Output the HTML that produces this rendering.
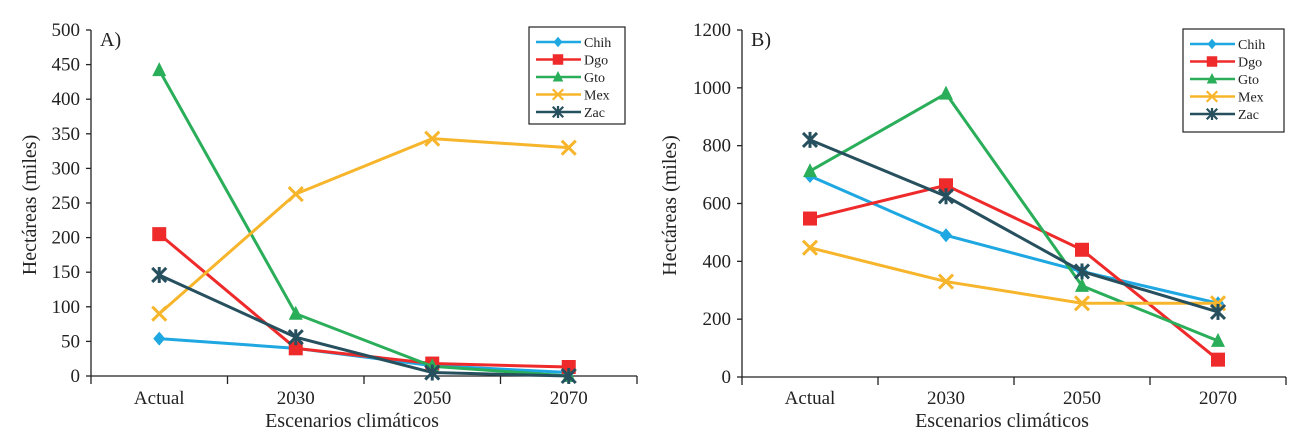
<!DOCTYPE html>
<html><head><meta charset="utf-8"><style>
body{margin:0;background:#fff}
svg{display:block;font-family:"Liberation Serif",serif}
</style></head><body>
<svg id="c" width="1291" height="439"></svg>
<script>
const categories=["Actual","2030","2050","2070"];
const seriesNames=["Chih","Dgo","Gto","Mex","Zac"];
const colors=["#1ea7e1","#ee2a2a","#2aae5a","#f7b52c","#27505e"];
const chihA=[54,40,15,5], dgoA=[205,40,18,13], gtoA=[442,90,14,0], mexA=[90,263,343,330], zacA=[146,56,5,0];
const chihB=[695,490,365,255], dgoB=[548,663,440,60], gtoB=[712,980,315,125], mexB=[447,330,255,255], zacB=[820,625,365,225];
const ticksA=[0,50,100,150,200,250,300,350,400,450,500];
const ticksB=[0,200,400,600,800,1000,1200];
const NS="http://www.w3.org/2000/svg";
const svg=document.getElementById('c');
function mk(t,a,p){const e=document.createElementNS(NS,t);for(const k in a)e.setAttribute(k,a[k]);(p||svg).appendChild(e);return e;}
function marker(g,type,x,y,col){
  if(type===0){const m=mk('polygon',{points:`${x},${y-7} ${x+6},${y} ${x},${y+7} ${x-6},${y}`,fill:col},g);return m;}
  if(type===1){return mk('rect',{x:x-7,y:y-7,width:14,height:14,fill:col},g);}
  if(type===2){return mk('polygon',{points:`${x},${y-8} ${x+7},${y+6} ${x-7},${y+6}`,fill:col},g);}
  const gg=mk('g',{stroke:col,'stroke-width':3,fill:'none'},g);
  mk('line',{x1:x-7,y1:y-7,x2:x+7,y2:y+7},gg);mk('line',{x1:x+7,y1:y-7,x2:x-7,y2:y+7},gg);
  if(type===4){mk('line',{x1:x,y1:y-8,x2:x,y2:y+8},gg);}
  return gg;
}
function chart(o){
  const g=mk('g',{});
  
  
  const y=v=>o.y0-(v/o.max)*(o.y0-o.yTop);
  const bw=(o.x1-o.x0)/categories.length;
  const cx=i=>o.x0+bw*(i+0.5);
  const ax=mk('g',{stroke:'#222','stroke-width':1.3},g);
  
  
  mk('line',{x1:o.x0,y1:o.yTop,x2:o.x0,y2:o.y0+8},ax);
  mk('line',{x1:o.x0,y1:o.y0,x2:o.x1,y2:o.y0},ax);
  for(let i=1;i<=categories.length;i++)mk('line',{x1:o.x0+bw*i,y1:o.y0,x2:o.x0+bw*i,y2:o.y0+8},ax);
  o.ticks.forEach(t=>{
    mk('line',{x1:o.x0-5,y1:y(t),x2:o.x0,y2:y(t)},ax);
    const tx=mk('text',{x:o.x0-11,y:y(t)+6,'text-anchor':'end','font-size':19,fill:'#222'},g);
    
    
    tx.textContent=t;
  });
  categories.forEach((c,i)=>{
    const tx=mk('text',{x:cx(i),y:404,'text-anchor':'middle','font-size':19,fill:'#222'},g);
    
    
    tx.textContent=c;
  });
  const xt=mk('text',{x:(o.x0+o.x1)/2-12,y:427,'text-anchor':'middle','font-size':20,fill:'#222'},g);
  
  
  xt.textContent='Escenarios climáticos';
  const yt=mk('text',{x:0,y:0,'text-anchor':'middle','font-size':20,fill:'#222',transform:`translate(${o.ytx},${(o.y0+o.yTop)/2+2}) rotate(-90)`},g);
  
  
  yt.textContent='Hectáreas (miles)';
  const pl=mk('text',{x:o.x0+9,y:o.yTop+16,'font-size':20,fill:'#222'},g);
  
  
  pl.textContent=o.label;
  o.data.forEach((d,s)=>{
    const sg=mk('g',{},g);
    
    
    mk('polyline',{points:d.map((v,i)=>cx(i)+','+y(v)).join(' '),fill:'none',stroke:colors[s],'stroke-width':3},sg);
    d.forEach((v,i)=>{const m=marker(sg,s,cx(i),y(v),colors[s]);
      
      });
  });
  const lg=mk('g',{},g);
  
  
  mk('rect',{x:o.lx,y:o.ly,width:o.lw,height:o.lh,fill:'#fff',stroke:'#222','stroke-width':1.2},lg);
  seriesNames.forEach((n,s)=>{
    const ry=o.ly+15+s*17.5;
    const e=mk('g',{},lg);
    
    
    mk('line',{x1:o.lx+7,y1:ry,x2:o.lx+52,y2:ry,stroke:colors[s],'stroke-width':2.5},e);
    const m=marker(e,s,o.lx+29,ry,colors[s]);m.setAttribute('transform',`translate(${o.lx+29},${ry}) scale(0.75) translate(${-(o.lx+29)},${-ry})`);
    const t=mk('text',{x:o.lx+55,y:ry+5,'font-size':14,fill:'#222'},e);t.textContent=n;
  });
}
chart({name:'chart-a',x0:91,x1:637,y0:376,yTop:30,max:500,ticks:ticksA,ytx:36,label:'A)',data:[chihA,dgoA,gtoA,mexA,zacA],lx:529,ly:27,lw:96,lh:97});
chart({name:'chart-b',x0:742,x1:1286,y0:377,yTop:30,max:1200,ticks:ticksB,ytx:676,label:'B)',data:[chihB,dgoB,gtoB,mexB,zacB],lx:1183,ly:29,lw:101,lh:103});
</script>
</body></html>
